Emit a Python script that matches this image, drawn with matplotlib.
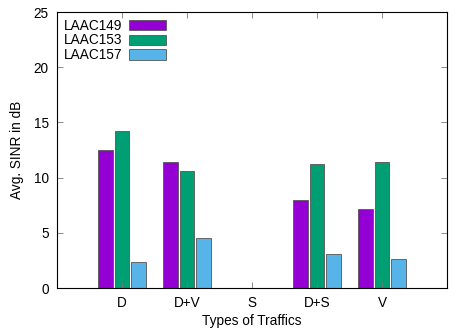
import numpy as np
import matplotlib.pyplot as plt

plt.rcParams['font.family'] = ['Liberation Sans', 'DejaVu Sans']
plt.rcParams['font.size'] = 9.8

categories = ['D', 'D+V', 'S', 'D+S', 'V']
laac149 = [12.5, 11.4, 0, 8.0, 7.2]
laac153 = [14.2, 10.6, 0, 11.2, 11.4]
laac157 = [2.4, 4.5, 0, 3.1, 2.6]

series = [('LAAC149', laac149, '#9400d3'),
          ('LAAC153', laac153, '#009e73'),
          ('LAAC157', laac157, '#56b4e9')]

fig = plt.figure(figsize=(4.71, 3.30), dpi=100)
ax = fig.add_axes([57 / 471, 42 / 330, 390 / 471, 276 / 330])

x = np.arange(len(categories))
w = 0.23
for i, (name, vals, col) in enumerate(series):
    ax.bar(x + (i - 1) * 0.25, vals, w, color=col, edgecolor='#555555',
           linewidth=0.6, label=name)

ax.set_xlim(-1, 5)
ax.set_ylim(0, 25)
ax.set_yticks(range(0, 26, 5))
ax.set_xticks(x)
ax.set_xticklabels(categories)
ax.tick_params(direction='in', top=True, right=True, length=4, width=0.6,
               color='#777777', labelcolor='black', pad=6)
for s in ax.spines.values():
    s.set_linewidth(0.8)
ax.set_xlabel('Types of Traffics', labelpad=3)
ax.set_ylabel('Avg. SINR in dB', labelpad=7)

leg = ax.legend(loc='upper left', frameon=False, markerfirst=False,
                handlelength=2.7, handleheight=0.8, handletextpad=0.5,
                labelspacing=0.05, borderaxespad=0.1)

fig.savefig('out.png', dpi=100)
